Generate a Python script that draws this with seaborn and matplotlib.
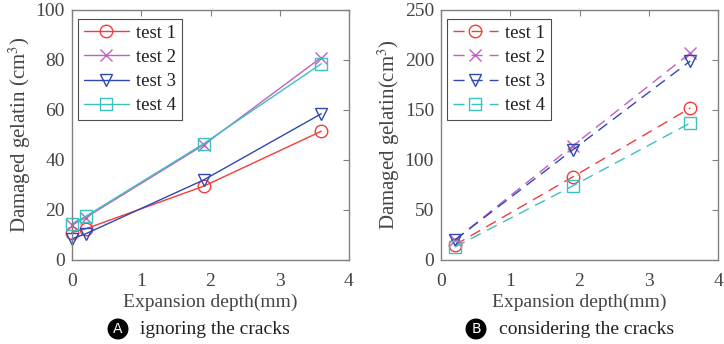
import numpy as np
import pandas as pd
import seaborn as sns
import matplotlib
matplotlib.use("Agg")
import matplotlib.pyplot as plt

# ---- data ----
series = ["test 1", "test 2", "test 3", "test 4"]
depth_a = [0, 0.2, 1.9, 3.6]
a_test1 = [11, 12.5, 29.5, 51.5]
a_test2 = [14, 17, 46, 81]
a_test3 = [8.5, 10.5, 32, 58.5]
a_test4 = [14.5, 17.5, 46.5, 78.5]

depth_b = [0.2, 1.9, 3.6]
b_test1 = [15, 83, 152]
b_test2 = [20, 114, 207]
b_test3 = [20, 110, 199]
b_test4 = [13, 74, 137]

colors = ["#f23c3c", "#c060c0", "#3048b0", "#3cc0c0"]
markers = ["o", "x", "v", "s"]

sns.set_theme(style="white")
plt.rcParams['font.family'] = ['Liberation Serif', 'DejaVu Serif']
plt.rcParams['mathtext.fontset'] = 'stix'

fig = plt.figure(figsize=(7.24, 3.44), dpi=100)
W, H = 724, 344
def ax_rect(x0, x1, y0, y1):
    return [x0 / W, 1 - y1 / H, (x1 - x0) / W, (y1 - y0) / H]

axA = fig.add_axes(ax_rect(72, 349, 10, 260))
axB = fig.add_axes(ax_rect(441, 718, 10, 260))

txtc = "#454545"
def draw(ax, x, ys, dashed):
    for name, y, c, m in zip(series, ys, colors, markers):
        df = pd.DataFrame({"x": x, "y": y})
        sns.lineplot(data=df, x="x", y="y", ax=ax, color=c, marker=m,
                     markersize=9, markerfacecolor="none", markeredgecolor=c,
                     markeredgewidth=1.0, linewidth=1.0, label=name,
                     linestyle=(0, (8, 5)) if dashed else "-", clip_on=False)

draw(axA, depth_a, [a_test1, a_test2, a_test3, a_test4], False)
draw(axB, depth_b, [b_test1, b_test2, b_test3, b_test4], True)

for ax, ymax, yl in [(axA, 100, "Damaged gelatin (cm$^3$)"),
                     (axB, 250, "Damaged gelatin(cm$^3$)")]:
    ax.set_xlim(0, 4)
    ax.set_ylim(0, ymax)
    ax.set_xticks([0, 1, 2, 3, 4])
    ax.set_yticks(np.linspace(0, ymax, 6))
    ax.tick_params(direction="in", length=4, top=True, right=True,
                   labelsize=14, colors="#808080", width=0.8)
    ax.tick_params(axis="x", pad=9)
    ax.tick_params(axis="y", pad=5)
    for lab in ax.get_xticklabels() + ax.get_yticklabels():
        lab.set_color(txtc)
    for s in ax.spines.values():
        s.set_color("#808080")
        s.set_linewidth(1.0)
        s.set_visible(True)
    ax.set_xlabel("Expansion depth(mm)", fontsize=14, color=txtc, labelpad=3)
    ax.set_ylabel(yl, fontsize=15, color=txtc, labelpad=2)
    leg = ax.legend(loc="upper left", fontsize=13.5, frameon=True, fancybox=False,
                    edgecolor="#202020", borderpad=0.3, labelspacing=0.38,
                    handlelength=2.4, handletextpad=0.4, borderaxespad=0,
                    bbox_to_anchor=(6 / 277, 1 - 9 / 250))
    leg.get_frame().set_linewidth(0.8)
    for t in leg.get_texts():
        t.set_color("#202020")

# captions
for cx, tx, letter, text in [(118, 140, "A", "ignoring the cracks"),
                             (476, 499, "B", "considering the cracks")]:
    fig.text(cx / W, 1 - 329 / H, letter, ha="center", va="center",
             fontsize=10, color="white", family="DejaVu Sans",
             bbox=dict(boxstyle="circle,pad=0.2", fc="black", ec="black"))
    fig.text(tx / W, 1 - 329 / H, text, ha="left", va="center",
             fontsize=14, color="#202020")

fig.savefig("out.png", dpi=100)
